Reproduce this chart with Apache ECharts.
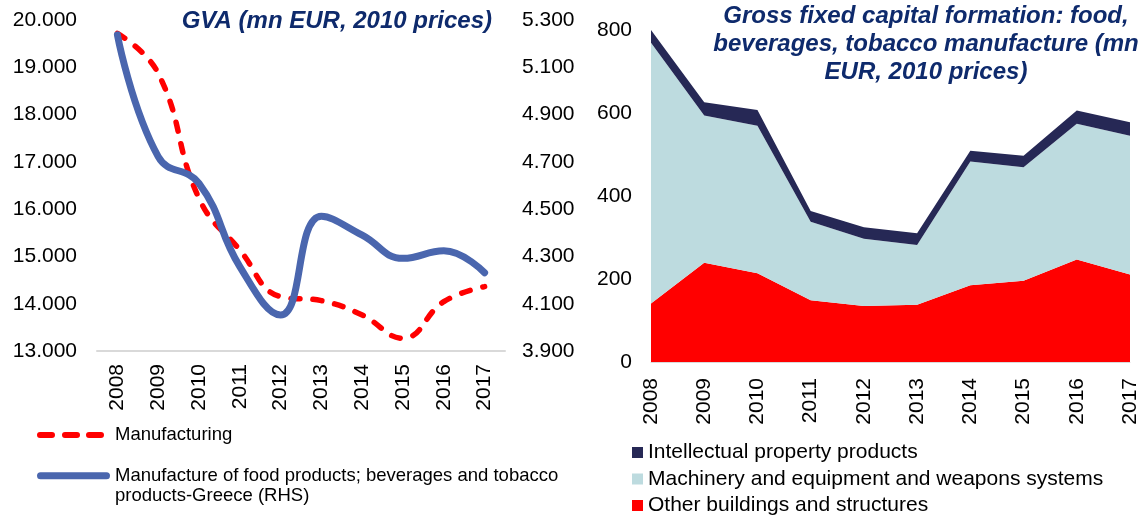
<!DOCTYPE html>
<html>
<head>
<meta charset="utf-8">
<script src="https://cdn.jsdelivr.net/npm/echarts@6/dist/echarts.min.js"></script>
<style>
  html, body { margin: 0; padding: 0; background: #ffffff; }
  #chart { width: 1143px; height: 515px; }
</style>
</head>
<body>
<div id="chart"></div>
<script>
const years = ['2008', '2009', '2010', '2011', '2012', '2013', '2014', '2015', '2016', '2017'];

// Left panel: GVA (mn EUR, 2010 prices)
const manufacturing = [19718, 18873, 16229, 15136, 14148, 14064, 13761, 13269, 14043, 14361];
const foodBevTobacco = [5237, 4722, 4609, 4257, 4052, 4470, 4390, 4292, 4324, 4231];
const leftTicks = [13000, 14000, 15000, 16000, 17000, 18000, 19000, 20000];
const rightTicks = [3900, 4100, 4300, 4500, 4700, 4900, 5100, 5300];

// Right panel: Gross fixed capital formation (stacked)
const otherBuildings = [141, 239, 214, 149, 135, 138, 185, 196, 247, 211];
const machinery = [628, 355, 355, 189, 162, 144, 298, 273, 327, 334];
const intellectual = [31, 32, 38, 26, 28, 28, 26, 28, 32, 33];
const gfcfTicks = [0, 200, 400, 600, 800];

const nameManuf = 'Manufacturing';
const nameFood = 'Manufacture of food products; beverages and tobacco\nproducts-Greece (RHS)';
const nameIP = 'Intellectual property products';
const nameMach = 'Machinery and equipment and weapons systems';
const nameOther = 'Other buildings and structures';

const FONT = "'Liberation Sans', Arial, sans-serif";
const TITLE_COLOR = '#0e2a6c';
const RED = '#ff0000';
const BLUE = '#4a66ae';

function fmtThousands(v) {
  const th = Math.floor(v / 1000);
  const rest = String(Math.round(v % 1000)).padStart(3, '0');
  return th + '.' + rest;
}

const dashIcon = 'path://M3,0H15A3,3 0 0 1 15,6H3A3,3 0 0 1 3,0Z' +
  'M28,0H40A3,3 0 0 1 40,6H28A3,3 0 0 1 28,0Z' +
  'M52,0H64A3,3 0 0 1 64,6H52A3,3 0 0 1 52,0Z' +
  'M0,0L0,6M73,0L73,6';
const solidIcon = 'path://M3.5,0H69.5A3.5,3.5 0 0 1 69.5,7H3.5A3.5,3.5 0 0 1 3.5,0Z';

const chart = echarts.init(document.getElementById('chart'), null, { renderer: 'canvas' });

const option = {
  backgroundColor: '#ffffff',
  animation: false,
  textStyle: { fontFamily: FONT },
  title: [
    {
      text: 'GVA (mn EUR, 2010 prices)',
      right: 651, top: 8, padding: 0,
      textStyle: { fontFamily: FONT, fontSize: 24, fontWeight: 'bold', fontStyle: 'italic', color: TITLE_COLOR, lineHeight: 26 }
    },
    {
      text: 'Gross fixed capital formation: food,\nbeverages, tobacco manufacture (mn\nEUR, 2010 prices)',
      left: 926, top: 2, textAlign: 'center', padding: 0,
      textStyle: { fontFamily: FONT, fontSize: 24, fontWeight: 'bold', fontStyle: 'italic', color: TITLE_COLOR, lineHeight: 28 }
    }
  ],
  legend: [
    {
      data: [{ name: nameManuf, icon: dashIcon }],
      left: 37, top: 424, orient: 'vertical', padding: 0,
      itemWidth: 73, itemHeight: 6, itemGap: 0,
      itemStyle: { borderWidth: 0 },
      textStyle: { fontFamily: FONT, fontSize: 18.5, color: '#000', lineHeight: 22 }
    },
    {
      data: [{ name: nameFood, icon: solidIcon }],
      left: 37, top: 445, orient: 'vertical', padding: 0,
      itemWidth: 73, itemHeight: 7, itemGap: 0,
      itemStyle: { borderWidth: 0 },
      formatter: function (n) { return '\n' + n; },
      textStyle: { fontFamily: FONT, fontSize: 18.5, color: '#000', lineHeight: 20.5 }
    },
    {
      data: [nameIP, nameMach, nameOther],
      left: 632, top: 442, height: 90, orient: 'vertical', padding: 0,
      icon: 'rect', itemWidth: 11, itemHeight: 11, itemGap: 5.5,
      itemStyle: { borderWidth: 0 },
      textStyle: { fontFamily: FONT, fontSize: 21, color: '#000', lineHeight: 21 }
    }
  ],
  grid: [
    { left: 97, right: 638, top: 20, bottom: 164 },
    { left: 651, right: 13, top: 30, bottom: 153 }
  ],
  xAxis: [
    {
      gridIndex: 0, type: 'category', data: years, boundaryGap: true,
      axisLine: { show: true, lineStyle: { color: '#d9d9d9', width: 2 } },
      axisTick: { show: false },
      axisLabel: { rotate: 90, margin: 13, fontSize: 21, color: '#000', fontFamily: FONT },
      splitLine: { show: false }
    },
    {
      gridIndex: 1, type: 'category', data: years, boundaryGap: false,
      axisLine: { show: true, lineStyle: { color: '#d9d9d9', width: 1 } },
      axisTick: { show: false },
      axisLabel: { rotate: 90, margin: 16, fontSize: 21, color: '#000', fontFamily: FONT },
      splitLine: { show: false }
    }
  ],
  yAxis: [
    {
      gridIndex: 0, type: 'value', min: leftTicks[0], max: leftTicks[leftTicks.length - 1], interval: 1000,
      axisLine: { show: false }, axisTick: { show: false }, splitLine: { show: false },
      axisLabel: { margin: 20, fontSize: 21, color: '#000', fontFamily: FONT, formatter: fmtThousands }
    },
    {
      gridIndex: 0, type: 'value', position: 'right',
      min: rightTicks[0], max: rightTicks[rightTicks.length - 1],
      axisLine: { show: false }, axisTick: { show: false }, splitLine: { show: false },
      axisLabel: { margin: 17, fontSize: 21, color: '#000', fontFamily: FONT, formatter: fmtThousands, customValues: rightTicks }
    },
    {
      gridIndex: 1, type: 'value', min: gfcfTicks[0], max: gfcfTicks[gfcfTicks.length - 1], interval: 200,
      axisLine: { show: false }, axisTick: { show: false }, splitLine: { show: false },
      axisLabel: { margin: 19, fontSize: 21, color: '#000', fontFamily: FONT }
    }
  ],
  series: [
    {
      name: nameManuf, type: 'line', xAxisIndex: 0, yAxisIndex: 0,
      data: manufacturing, smooth: 0.45, symbol: 'none', z: 3,
      color: RED,
      lineStyle: { color: RED, width: 5.5, type: [9, 13], cap: 'round' }
    },
    {
      name: nameFood, type: 'line', xAxisIndex: 0, yAxisIndex: 1,
      data: foodBevTobacco, smooth: 0.45, symbol: 'none', z: 4,
      color: BLUE,
      lineStyle: { color: BLUE, width: 7, cap: 'round' }
    },
    {
      name: nameOther, type: 'line', xAxisIndex: 1, yAxisIndex: 2, stack: 'gfcf',
      data: otherBuildings, symbol: 'none', color: '#ff0000',
      lineStyle: { width: 0 }, areaStyle: { color: '#ff0000', opacity: 1 }
    },
    {
      name: nameMach, type: 'line', xAxisIndex: 1, yAxisIndex: 2, stack: 'gfcf',
      data: machinery, symbol: 'none', color: '#bddbdf',
      lineStyle: { width: 0 }, areaStyle: { color: '#bddbdf', opacity: 1 }
    },
    {
      name: nameIP, type: 'line', xAxisIndex: 1, yAxisIndex: 2, stack: 'gfcf',
      data: intellectual, symbol: 'none', color: '#262855',
      lineStyle: { width: 0 }, areaStyle: { color: '#262855', opacity: 1 }
    }
  ]
};

chart.setOption(option);
</script>
</body>
</html>
